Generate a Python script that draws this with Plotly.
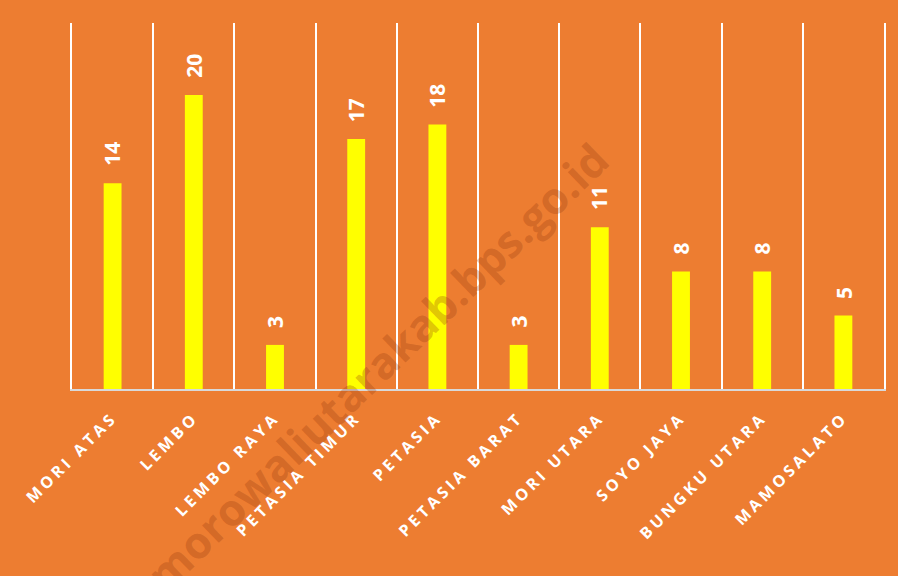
import plotly.graph_objects as go

categories = ["MORI ATAS", "LEMBO", "LEMBO RAYA", "PETASIA TIMUR", "PETASIA",
              "PETASIA BARAT", "MORI UTARA", "SOYO JAYA", "BUNGKU UTARA", "MAMOSALATO"]
values = [14, 20, 3, 17, 18, 3, 11, 8, 8, 5]

ORANGE = "#ED7D31"

fig = go.Figure()
fig.add_trace(go.Bar(
    x=categories, y=values,
    marker=dict(color="#FFFF00", line=dict(width=0)),
    width=0.22,
    hoverinfo="x+y",
))

for c, v in zip(categories, values):
    fig.add_annotation(
        x=c, y=v, text=str(v), textangle=-90, showarrow=False,
        yanchor="bottom", yshift=15, xanchor="center",
        font=dict(family="Open Sans", size=21, color="white", weight="bold"),
    )

fig.add_annotation(
    xref="paper", yref="paper", x=0.375, y=0.06,
    xanchor="center", yanchor="middle",
    text="morowaliutarakab.bps.go.id", textangle=-44, showarrow=False,
    font=dict(family="Open Sans", size=44, color="rgba(150,60,15,0.30)", weight="bold"),
)

fig.update_layout(
    width=898, height=576,
    paper_bgcolor=ORANGE, plot_bgcolor=ORANGE,
    margin=dict(l=72, r=12, t=23, b=187),
    showlegend=False,
    xaxis=dict(
        type="category", tickson="boundaries",
        showgrid=True, gridcolor="white", gridwidth=2,
        showline=True, linecolor="#D9D9D9", linewidth=2,
        ticks="", tickangle=-45, ticklabelstandoff=11,
        tickvals=categories,
        ticktext=['<span style="letter-spacing:3.6px">%s</span>' % c for c in categories],
        tickfont=dict(family="Open Sans", size=16, color="white", weight="bold"),
    ),
    yaxis=dict(range=[0, 24.9], showticklabels=False, ticks="", showgrid=False,
               zeroline=False, showline=True, linecolor="white", linewidth=2, mirror=True),
)

fig.write_html(
    "out.html",
    config={"displayModeBar": False},
    post_script="document.body.style.margin='0';document.body.style.padding='0';"
                "document.body.style.overflow='hidden';",
)
